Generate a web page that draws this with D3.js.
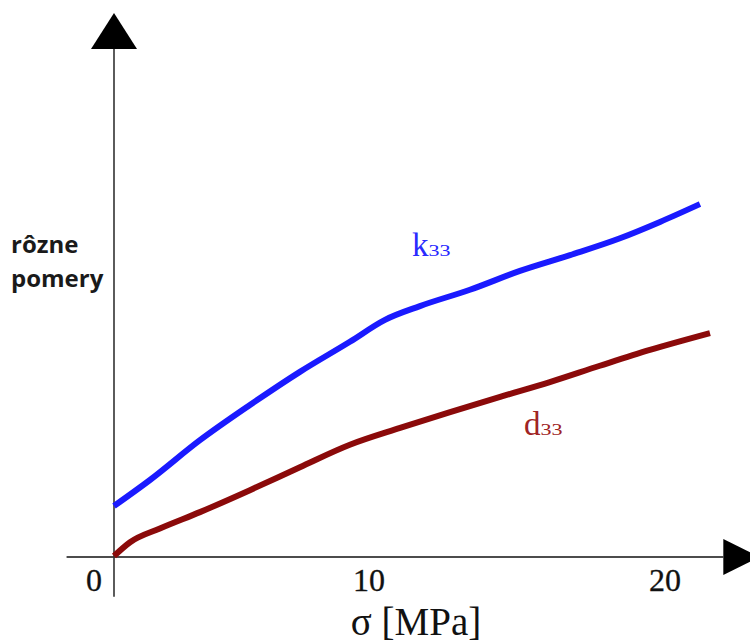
<!DOCTYPE html>
<html><head><meta charset="utf-8">
<script src="https://cdn.jsdelivr.net/npm/d3@7"></script>
<style>body{margin:0;background:#fff;overflow:hidden}svg{display:block}</style>
</head><body>
<script>
// Data
const xTicks = [0, 10, 20];
const k33Sigma = [0, 1.41, 3.37, 5.33, 7.29, 9.25, 10.54, 11.72, 13.41, 15.10, 16.79, 18.48, 19.83, 21.18];
const k33Vals  = [10.0, 15.1, 22.9, 29.8, 36.3, 42.2, 46.5, 49.2, 52.4, 56.1, 59.2, 62.5, 65.7, 69.2];
const d33Sigma = [0, 0.63, 1.80, 3.37, 5.33, 7.29, 9.25, 11.05, 12.74, 14.43, 16.11, 17.80, 19.49, 21.52];
const d33Vals  = [0.2, 2.9, 5.6, 8.8, 13.1, 17.6, 22.0, 25.3, 28.4, 31.4, 34.3, 37.5, 40.6, 43.9];
const yLabel = ["rôzne", "pomery"];
const xLabel = "σ [MPa]";

const W = 750, H = 642;
const svg = d3.select("body").append("svg").attr("width", W).attr("height", H);

const x = d3.scaleLinear().domain([0, 10, 20]).range([114, 369, 665]);
const y = d3.scaleLinear().domain([0, 100]).range([557, 47]);

// axes lines
svg.append("line").attr("x1", x(-1.86)).attr("x2", x(21.97)).attr("y1", y(0)).attr("y2", y(0))
  .attr("stroke", "#111").attr("stroke-width", 1.6);
svg.append("line").attr("x1", x(0)).attr("x2", x(0)).attr("y1", y(-7.8)).attr("y2", y(100))
  .attr("stroke", "#333").attr("stroke-width", 1.6);
// arrows
const ax0 = x(0), ay = y(100);
svg.append("path").attr("d", `M${ax0},${ay-34}L${ax0+23},${ay+2}L${ax0-23},${ay+2}Z`).attr("fill", "#000");
const bx = x(21.97), by = y(0);
svg.append("path").attr("d", `M${bx},${by-18}L${bx+36},${by}L${bx},${by+18}Z`).attr("fill", "#000");

// tick labels
svg.selectAll(".tick").data(xTicks).join("text")
  .attr("x", d => d === 0 ? x(d) - 12 : x(d))
  .attr("y", y(0) + 34)
  .attr("text-anchor", d => d === 0 ? "end" : "middle")
  .attr("font-family", "Liberation Serif, Times New Roman, serif")
  .attr("font-size", 32).attr("fill", "#111").attr("stroke", "#111").attr("stroke-width", 0.3)
  .text(d => d);

svg.append("text").attr("x", 416).attr("y", 635).attr("text-anchor", "middle")
  .attr("font-family", "Liberation Serif, Times New Roman, serif").attr("font-size", 39)
  .attr("fill", "#111").text(xLabel);

svg.selectAll(".yl").data(yLabel).join("text")
  .attr("x", 11).attr("y", (d, i) => 253 + i * 34)
  .attr("font-family", "Open Sans, sans-serif").attr("font-weight", "bold")
  .attr("font-size", 24).attr("fill", "#1a1a1a").text(d => d);

const line = d3.line().x(d => x(d[0])).y(d => y(d[1])).curve(d3.curveMonotoneX);
const k33 = k33Sigma.map((s, i) => [s, k33Vals[i]]);
const d33 = d33Sigma.map((s, i) => [s, d33Vals[i]]);
svg.append("path").attr("d", line(k33)).attr("fill", "none").attr("stroke", "#1a1aff")
  .attr("stroke-width", 6).attr("stroke-linecap", "butt");
svg.append("path").attr("d", line(d33)).attr("fill", "none").attr("stroke", "#8b0a0a")
  .attr("stroke-width", 6).attr("stroke-linecap", "butt");

// curve labels
function sublabel(tx, ty, main, sub, color) {
  const t = svg.append("text").attr("x", tx).attr("y", ty)
    .attr("font-family", "Liberation Serif, Times New Roman, serif").attr("fill", color);
  t.append("tspan").attr("font-size", 33).text(main);
  t.append("tspan").attr("font-size", 16).attr("textLength", 22)
    .attr("lengthAdjust", "spacingAndGlyphs").text(sub);
}
sublabel(412, 256, "k", "33", "#2a2aff");
sublabel(524, 435, "d", "33", "#a02424");
</script>
</body></html>
